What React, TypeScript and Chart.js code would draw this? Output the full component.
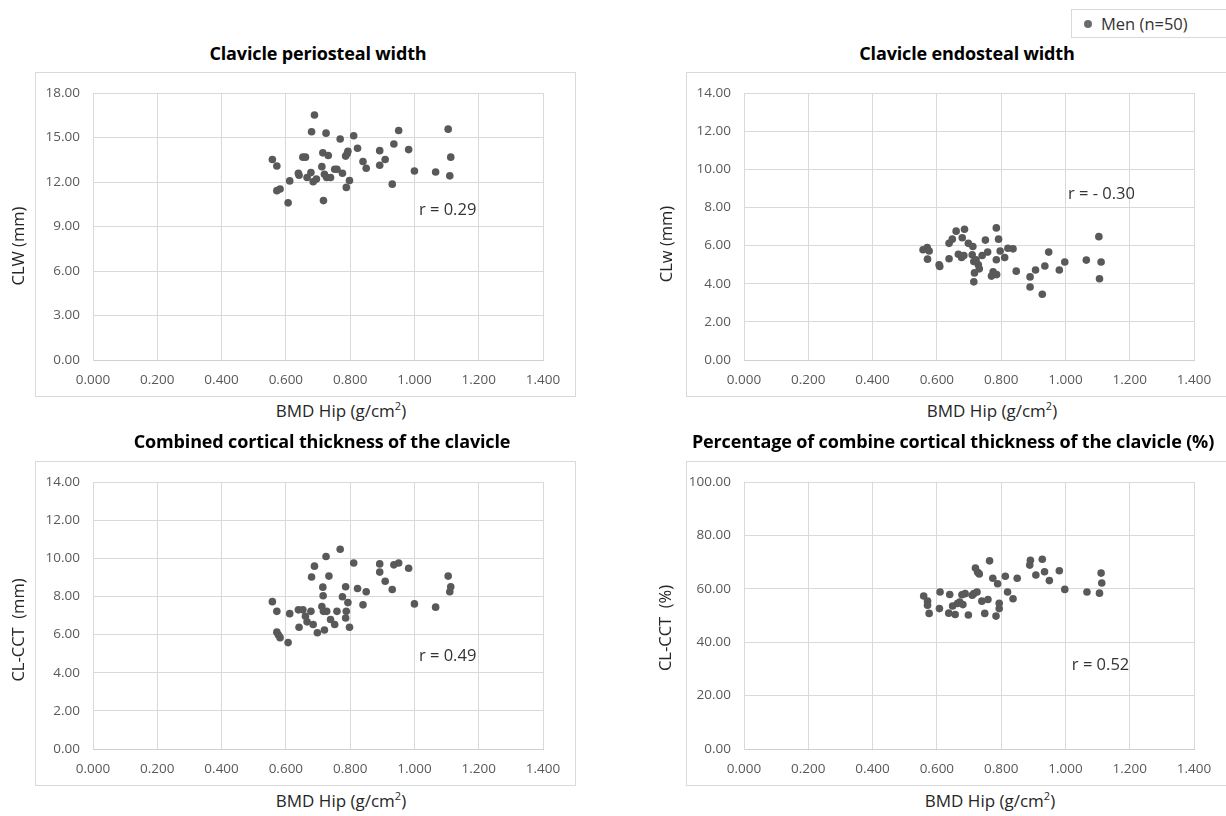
import React, { useEffect, useRef } from "react";
import { Chart, registerables } from "chart.js";

Chart.register(...registerables);

// Shared x axis: hip bone mineral density
const hipTicks = [0, 0.2, 0.4, 0.6, 0.8, 1.0, 1.2, 1.4];

// Clavicle periosteal width (CLW, mm)
const periostealHip = [
  0.558, 0.572, 0.572, 0.582, 0.607, 0.612, 0.639, 0.641, 0.653, 0.661, 0.666, 0.678, 0.68, 0.689,
  0.685, 0.695, 0.712, 0.715, 0.717, 0.72, 0.725, 0.727, 0.732, 0.739, 0.752, 0.759, 0.769, 0.776,
  0.786, 0.791, 0.793, 0.788, 0.798, 0.811, 0.823, 0.84, 0.85, 0.892, 0.892, 0.909, 0.931, 0.936,
  0.951, 0.982, 1.0, 1.066, 1.105, 1.11, 1.113,
];
const periostealWidth = [
  13.52, 13.08, 11.42, 11.53, 10.6, 12.08, 12.59, 12.46, 13.68, 13.68, 12.31, 12.64, 15.39, 16.52,
  12.02, 12.2, 13.04, 13.97, 10.75, 12.53, 15.3, 12.31, 13.79, 12.31, 12.86, 12.86, 14.9, 12.59,
  13.75, 13.92, 14.08, 11.64, 12.11, 15.12, 14.28, 13.39, 12.93, 14.12, 13.13, 13.52, 11.86, 14.57,
  15.48, 14.19, 12.75, 12.68, 15.57, 12.42, 13.68,
];
const periostealTicks = [0, 3, 6, 9, 12, 15, 18];

// Clavicle endosteal width (CLw, mm)
const endostealHip = [
  0.557, 0.57, 0.576, 0.571, 0.607, 0.609, 0.638, 0.648, 0.638, 0.66, 0.667, 0.679, 0.686, 0.677,
  0.684, 0.698, 0.712, 0.71, 0.715, 0.717, 0.715, 0.722, 0.729, 0.732, 0.741, 0.751, 0.758, 0.77,
  0.775, 0.786, 0.785, 0.785, 0.792, 0.797, 0.811, 0.821, 0.837, 0.847, 0.89, 0.89, 0.907, 0.928,
  0.936, 0.948, 0.981, 0.998, 1.065, 1.104, 1.111, 1.106,
];
const endostealWidth = [
  5.78, 5.9, 5.72, 5.29, 5.0, 4.91, 6.12, 6.34, 5.31, 6.76, 5.55, 6.41, 6.86, 5.38,
  5.48, 6.12, 5.95, 5.52, 5.17, 4.57, 4.1, 5.26, 5.0, 4.78, 5.48, 6.29, 5.66, 4.4,
  4.62, 4.48, 6.93, 5.26, 6.34, 5.72, 5.38, 5.86, 5.83, 4.66, 4.36, 3.83, 4.72, 3.45,
  4.93, 5.66, 4.72, 5.14, 5.24, 6.47, 5.14, 4.26,
];
const endostealTicks = [0, 2, 4, 6, 8, 10, 12, 14];

// Combined cortical thickness of the clavicle (CL-CCT, mm)
const cctHip = [
  0.558, 0.572, 0.572, 0.577, 0.582, 0.607, 0.612, 0.639, 0.641, 0.653, 0.661, 0.666, 0.678, 0.68,
  0.689, 0.685, 0.698, 0.712, 0.715, 0.716, 0.717, 0.72, 0.725, 0.727, 0.734, 0.739, 0.752, 0.759,
  0.769, 0.776, 0.786, 0.788, 0.786, 0.793, 0.798, 0.811, 0.823, 0.84, 0.85, 0.892, 0.892, 0.909,
  0.931, 0.936, 0.951, 0.982, 1.0, 1.066, 1.105, 1.11, 1.113,
];
const cctThickness = [
  7.73, 7.22, 6.13, 5.98, 5.84, 5.58, 7.1, 7.3, 6.39, 7.3, 6.96, 6.67, 7.22, 9.02,
  9.59, 6.53, 6.1, 7.47, 8.49, 8.04, 7.22, 6.24, 10.1, 7.22, 9.07, 6.79, 6.53, 7.22,
  10.48, 7.99, 8.51, 7.22, 6.87, 7.68, 6.39, 9.76, 8.42, 7.56, 8.25, 9.71, 9.28, 8.8,
  8.37, 9.66, 9.76, 9.48, 7.61, 7.44, 9.07, 8.25, 8.51,
];
const cctTicks = [0, 2, 4, 6, 8, 10, 12, 14];

// Percentage of combined cortical thickness (CL-CCT, %)
const pctHip = [
  0.559, 0.571, 0.571, 0.576, 0.608, 0.61, 0.637, 0.64, 0.649, 0.657, 0.664, 0.671, 0.678, 0.681,
  0.688, 0.698, 0.71, 0.715, 0.72, 0.725, 0.727, 0.732, 0.74, 0.749, 0.759, 0.764, 0.774, 0.784,
  0.789, 0.794, 0.794, 0.813, 0.82, 0.837, 0.85, 0.889, 0.891, 0.908, 0.928, 0.935, 0.95, 0.981,
  0.998, 1.067, 1.106, 1.111, 1.113,
];
const pctThickness = [
  57.3, 55.4, 53.9, 50.8, 52.6, 58.8, 50.9, 57.9, 53.6, 50.4, 54.5, 55.1, 57.8, 54.1,
  58.2, 50.2, 57.6, 58.2, 67.8, 58.8, 66.2, 65.6, 55.4, 50.8, 56.0, 70.5, 64.0, 49.8,
  61.9, 54.6, 52.6, 64.7, 58.8, 56.3, 64.0, 68.9, 70.7, 65.2, 71.1, 66.4, 63.1, 66.8,
  59.8, 58.8, 58.4, 65.9, 62.2,
];
const pctTicks = [0, 20, 40, 60, 80, 100];

const legendLabel = "Men (n=50)";

const DOT = "#595959";
const GRID = "#d9d9d9";
const FONT = '"Open Sans", "Noto Sans", sans-serif';

type Box = { x: number; y: number; w: number; h: number };
type PanelSpec = {
  title: string;
  titleAt: [number, number];
  yTitle: string;
  yTitleAt: [number, number];
  xTitleAt: [number, number];
  box: Box;
  rightPad: number;
  xs: number[];
  ys: number[];
  yTicks: number[];
  r: string;
  rAt: [number, number];
};

const panels: PanelSpec[] = [
  {
    title: "Clavicle periosteal width",
    titleAt: [318, 54],
    yTitle: "CLW (mm)",
    yTitleAt: [18, 246],
    xTitleAt: [341, 411],
    box: { x: 35, y: 72, w: 541, h: 325 },
    rightPad: 33,
    xs: periostealHip,
    ys: periostealWidth,
    yTicks: periostealTicks,
    r: "r = 0.29",
    rAt: [1.014, 10.09],
  },
  {
    title: "Clavicle endosteal width",
    titleAt: [967, 54],
    yTitle: "CLw (mm)",
    yTitleAt: [666, 244],
    xTitleAt: [992, 411],
    box: { x: 686, y: 72, w: 560, h: 325 },
    rightPad: 52,
    xs: endostealHip,
    ys: endostealWidth,
    yTicks: endostealTicks,
    r: "r = - 0.30",
    rAt: [1.008, 8.67],
  },
  {
    title: "Combined cortical thickness of the clavicle",
    titleAt: [322, 442],
    yTitle: "CL-CCT  (mm)",
    yTitleAt: [18, 630],
    xTitleAt: [341, 801],
    box: { x: 35, y: 461, w: 541, h: 325 },
    rightPad: 33,
    xs: cctHip,
    ys: cctThickness,
    yTicks: cctTicks,
    r: "r = 0.49",
    rAt: [1.014, 4.86],
  },
  {
    title: "Percentage of combine cortical thickness of the clavicle (%)",
    titleAt: [953, 442],
    yTitle: "CL-CCT  (%)",
    yTitleAt: [665, 628],
    xTitleAt: [990, 801],
    box: { x: 686, y: 461, w: 560, h: 325 },
    rightPad: 52,
    xs: pctHip,
    ys: pctThickness,
    yTicks: pctTicks,
    r: "r = 0.52",
    rAt: [1.02, 31.4],
  },
];

// Draws the correlation coefficient anchored at a data position
const rLabelPlugin = {
  id: "rLabel",
  afterDatasetsDraw(chart: any, _args: any, opts: any) {
    if (!opts || !opts.text) return;
    const { ctx, scales } = chart;
    const px = scales.x.getPixelForValue(opts.x);
    const py = scales.y.getPixelForValue(opts.y);
    ctx.save();
    ctx.font = `16.5px ${FONT}`;
    ctx.fillStyle = "#333333";
    ctx.textAlign = "left";
    ctx.textBaseline = "middle";
    ctx.fillText(opts.text, px, py);
    ctx.restore();
  },
};

function ScatterPanel({ p }: { p: PanelSpec }) {
  const ref = useRef<HTMLCanvasElement>(null);

  useEffect(() => {
    if (!ref.current) return;
    const chart = new Chart(ref.current, {
      type: "scatter",
      data: {
        datasets: [
          {
            label: legendLabel,
            data: p.xs.map((x, i) => ({ x, y: p.ys[i] })),
            backgroundColor: DOT,
            borderColor: DOT,
            pointRadius: 3.8,
            pointBorderWidth: 0,
            pointHoverRadius: 3.8,
          },
        ],
      },
      options: {
        animation: false,
        responsive: false,
        devicePixelRatio: 1,
        events: [],
        layout: { padding: { top: 17, right: p.rightPad, left: 0, bottom: 0 } },
        plugins: {
          legend: { display: false },
          tooltip: { enabled: false },
          title: { display: false },
          rLabel: { text: p.r, x: p.rAt[0], y: p.rAt[1] },
        } as any,
        scales: {
          x: {
            type: "linear",
            min: hipTicks[0],
            max: hipTicks[hipTicks.length - 1],
            afterBuildTicks: (axis: any) => {
              axis.ticks = hipTicks.map((value) => ({ value }));
            },
            afterFit: (axis: any) => {
              axis.height = 37;
            },
            ticks: {
              callback: (v: any) => Number(v).toFixed(3),
              padding: 12,
              color: "#595959",
              font: { family: FONT, size: 13.5 },
              maxRotation: 0,
              autoSkip: false,
            },
            grid: { color: GRID, lineWidth: 1, drawTicks: false },
            border: { display: true, color: "#cfcfcf" },
          },
          y: {
            type: "linear",
            min: p.yTicks[0],
            max: p.yTicks[p.yTicks.length - 1],
            afterBuildTicks: (axis: any) => {
              axis.ticks = p.yTicks.map((value) => ({ value }));
            },
            afterFit: (axis: any) => {
              axis.width = 58;
            },
            ticks: {
              callback: (v: any) => Number(v).toFixed(2),
              padding: 13,
              color: "#595959",
              font: { family: FONT, size: 13.5 },
              autoSkip: false,
            },
            grid: { color: GRID, lineWidth: 1, drawTicks: false },
            border: { display: true, color: GRID },
          },
        },
      },
      plugins: [rLabelPlugin as any],
    });
    return () => chart.destroy();
  }, [p]);

  const { box } = p;
  return (
    <>
      <canvas
        ref={ref}
        width={box.w}
        height={box.h}
        style={{ position: "absolute", left: box.x, top: box.y, width: box.w, height: box.h, display: "block" }}
      />
      <div
        style={{
          position: "absolute",
          left: box.x,
          top: box.y,
          width: box.w,
          height: box.h,
          boxSizing: "border-box",
          border: "1px solid #d9d9d9",
          pointerEvents: "none",
        }}
      />
      <div
        style={{
          position: "absolute",
          left: p.titleAt[0],
          top: p.titleAt[1],
          transform: "translate(-50%, -50%)",
          whiteSpace: "nowrap",
          fontWeight: 700,
          fontSize: 18,
          color: "#000",
          letterSpacing: -0.15,
        }}
      >
        {p.title}
      </div>
      <div
        style={{
          position: "absolute",
          left: p.yTitleAt[0],
          top: p.yTitleAt[1],
          transform: "translate(-50%, -50%) rotate(-90deg)",
          whiteSpace: "pre",
          fontSize: 16.5,
          color: "#262626",
        }}
      >
        {p.yTitle}
      </div>
      <div
        style={{
          position: "absolute",
          left: p.xTitleAt[0],
          top: p.xTitleAt[1],
          transform: "translate(-50%, -50%)",
          whiteSpace: "nowrap",
          fontSize: 17,
          color: "#262626",
        }}
      >
        BMD Hip (g/cm<sup style={{ fontSize: 11, verticalAlign: "super", lineHeight: 0 }}>2</sup>)
      </div>
    </>
  );
}

export default function App() {
  return (
    <div
      style={{
        position: "fixed",
        left: 0,
        top: 0,
        width: 1226,
        height: 816,
        overflow: "hidden",
        background: "#ffffff",
        fontFamily: FONT,
        lineHeight: 1.2,
      }}
    >
      {panels.map((p) => (
        <ScatterPanel key={p.title} p={p} />
      ))}
      <div
        style={{
          position: "absolute",
          left: 1071,
          top: 9,
          width: 180,
          height: 29,
          boxSizing: "border-box",
          border: "1px solid #d9d9d9",
          background: "#fff",
        }}
      />
      <div
        style={{
          position: "absolute",
          left: 1083.5,
          top: 20,
          width: 8,
          height: 8,
          borderRadius: "50%",
          background: "#6b6b6b",
        }}
      />
      <div
        style={{
          position: "absolute",
          left: 1101,
          top: 24,
          transform: "translateY(-50%)",
          whiteSpace: "nowrap",
          fontSize: 16.5,
          color: "#333333",
        }}
      >
        {legendLabel}
      </div>
    </div>
  );
}
